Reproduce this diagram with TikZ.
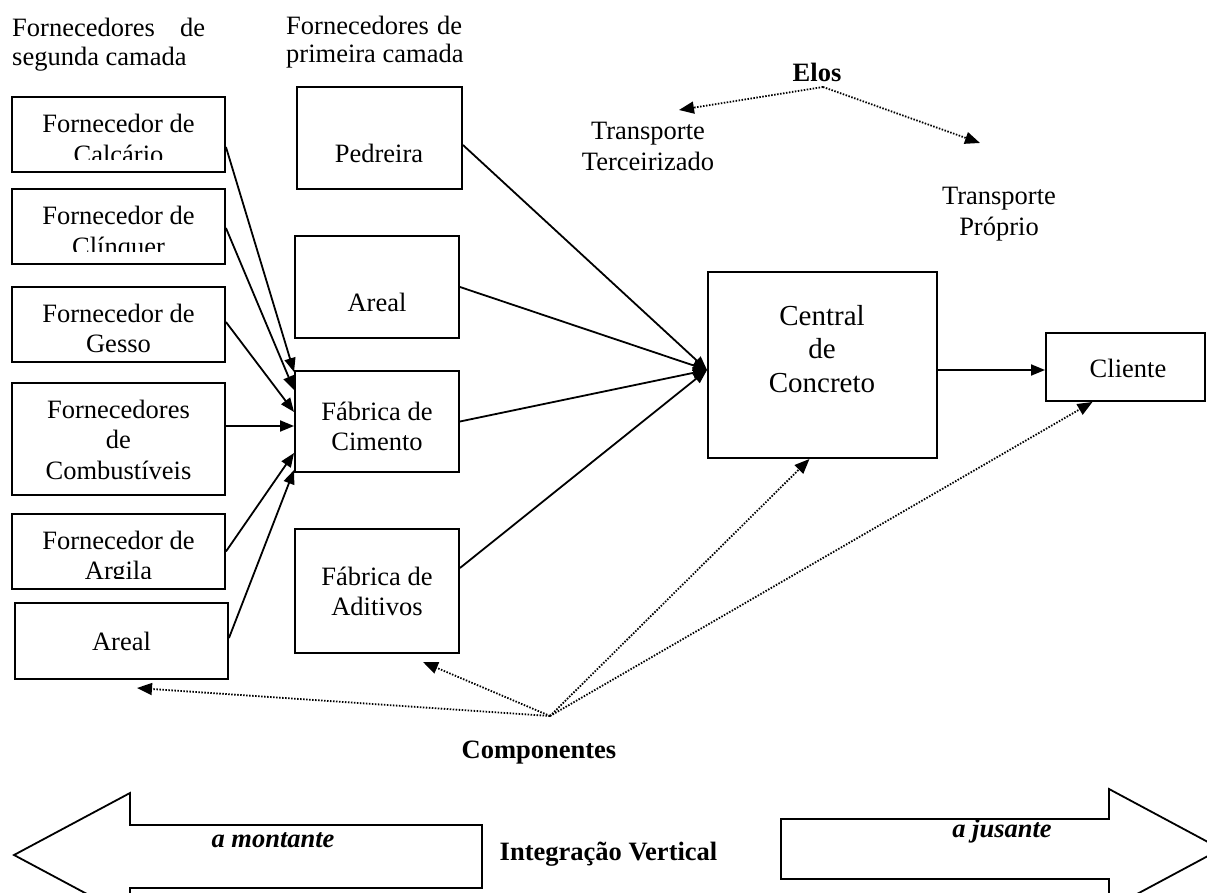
\documentclass[tikz,border=0pt]{standalone}
\usepackage{fontspec}
\setmainfont{Liberation Serif}
\usetikzlibrary{arrows.meta}
\newcommand\myfs{\fontsize{26.5}{30.5}\selectfont}
\newcommand\myfsc{\fontsize{29}{33.5}\selectfont}
\begin{document}
\begin{tikzpicture}[x=1pt,y=-1pt,
  bx/.style={draw, line width=1.9pt, inner sep=0pt},
  txt/.style={font=\myfs, inner sep=0pt, anchor=base, align=center},
  arr/.style={line width=1.8pt, -{Triangle[length=14pt,width=11pt]}},
  dot/.style={line width=1.8pt, dash pattern=on 1.5pt off 1.5pt, -{Triangle[length=15pt,width=12pt]}},
  blk/.style={draw, line width=1.8pt}]
\useasboundingbox (0,0) rectangle (1207,893);
\clip (0,0) rectangle (1207,893);

% ---- top labels
\node[txt, anchor=base west] (lab2a) at (12,37) {\makebox[193pt][s]{Fornecedores de}};
\node[txt, anchor=base west] (lab2b) at (12,66) {segunda camada};
\node[txt, anchor=base west] (lab1a) at (286,35) {\makebox[176pt][s]{Fornecedores de}};
\node[txt, anchor=base west] (lab1b) at (286,63) {primeira camada};

% ---- second tier boxes
\node[bx, minimum width=213pt, minimum height=75pt] (calc) at (118.5,134.5) {};
\node[bx, minimum width=213pt, minimum height=75pt] (clin) at (118.5,226.5) {};
\node[bx, minimum width=213pt, minimum height=75pt] (gess) at (118.5,324.5) {};
\node[bx, minimum width=213pt, minimum height=112pt] (comb) at (118.5,439) {};
\node[bx, minimum width=213pt, minimum height=75pt] (argi) at (118.5,551.5) {};
\node[bx, minimum width=213pt, minimum height=76pt] (are2) at (121.5,641) {};

% (the base anchor of a multi-line node is the baseline of its last line)
\begin{scope}
  \clip (12,97) rectangle (225,160);
  \node[txt] (calct) at (118.5,163.5) {Fornecedor de\\Calcário};
\end{scope}
\begin{scope}
  \clip (12,189) rectangle (225,252);
  \node[txt] (clint) at (118.5,255.5) {Fornecedor de\\Clínquer};
\end{scope}
\begin{scope}
  \clip (12,287) rectangle (225,352);
  \node[txt] (gesst) at (118.5,352.5) {Fornecedor de\\Gesso};
\end{scope}
\node[txt] (combt) at (118.5,479) {Fornecedores\\de\\Combustíveis};
\begin{scope}
  \clip (12,514) rectangle (225,578);
  \node[txt] (argit) at (118.5,579.5) {Fornecedor de\\Argila};
\end{scope}
\node[txt] (are2t) at (121.5,650) {Areal};

% ---- first tier boxes
\node[bx, minimum width=165pt, minimum height=102pt] (pedr) at (379.5,138) {};
\node[bx, minimum width=164pt, minimum height=102pt] (are1) at (377,287) {};
\node[bx, minimum width=164pt, minimum height=101pt] (cime) at (377,421.5) {};
\node[bx, minimum width=164pt, minimum height=124pt] (adit) at (377,591) {};
\node[txt] (pedrt) at (379,163) {Pedreira};
\node[txt] (are1t) at (377,312) {Areal};
\node[txt] (cimet) at (377,450.5) {Fábrica de\\Cimento};
\node[txt] (aditt) at (377,615.5) {Fábrica de\\Aditivos};

% ---- central and client
\node[bx, minimum width=229pt, minimum height=186pt] (cent) at (822.5,365) {};
\node[txt, font=\myfsc] (centt) at (822,392) {Central\\de\\Concreto};
\node[bx, minimum width=159pt, minimum height=68pt] (clie) at (1125.5,367) {};
\node[txt] (cliet) at (1128,377) {Cliente};

% ---- other texts
\node[txt, font=\myfs\bfseries] (elos) at (817,82) {Elos};
\node[txt] (tter) at (648,170.5) {Transporte\\Terceirizado};
\node[txt] (tpro) at (999,235.5) {Transporte\\Próprio};
\node[txt, font=\myfs\bfseries] (comp) at (539,758) {Componentes};

% ---- solid arrows into Fabrica de Cimento
\draw[arr] ([yshift=-12.5pt]calc.east) -- ([yshift=49.5pt]cime.west);
\draw[arr] ([yshift=-1.5pt]clin.east) -- ([yshift=31.5pt]cime.west);
\draw[arr] ([yshift=2.5pt]gess.east) -- ([yshift=9.5pt]cime.west);
\draw[arr] ([yshift=13pt]comb.east) -- ([yshift=-4.5pt]cime.west);
\draw[arr] (argi.east) -- ([yshift=-31.5pt]cime.west);
\draw[arr] ([yshift=3pt]are2.east) -- ([yshift=-48.5pt]cime.west);

% ---- solid arrows into Central
\coordinate (cin) at ([yshift=-5pt]cent.west);
\draw[arr] ([yshift=-7pt]pedr.east) -- (cin);
\draw[arr] (are1.east) -- (cin);
\draw[arr] (cime.east) -- (cin);
\draw[arr] ([yshift=23pt]adit.east) -- (cin);

% ---- Central to Cliente
\coordinate (cl) at ([yshift=-3pt]clie.west);
\draw[arr] (cent.east |- cl) -- (cl);

% ---- dotted arrows (Elos)
\coordinate (elo0) at (823,87);
\coordinate (eloL) at (679,110);
\coordinate (eloR) at (980,143);
\draw[dot] (elo0) -- (eloL);
\draw[dot] (elo0) -- (eloR);

% ---- dotted arrows (Componentes)
\coordinate (cmp0) at (550,716);
\coordinate (cmpA) at (137,688);
\coordinate (cmpB) at (423,662);
\draw[dot] (cmp0) -- (cmpA);
\draw[dot] (cmp0) -- (cmpB);
\draw[dot] (cmp0) -- ([xshift=-13pt]cent.south);
\draw[dot] (cmp0) -- ([xshift=-33pt]clie.south);

% ---- block arrows
\draw[blk] (14,855) -- (130,793) -- (130,825) -- (482,825) -- (482,888) -- (130,888) -- (130,917) -- cycle;
\draw[blk] (781,819) -- (1109,819) -- (1109,789) -- (1221,849) -- (1109,909) -- (1109,879) -- (781,879) -- cycle;
\node[txt, font=\myfs\bfseries\itshape] (mont) at (273,847) {a montante};
\node[txt, font=\myfs\bfseries\itshape] (jus) at (1002,837) {a jusante};
\node[txt, font=\myfs\bfseries] (integ) at (608.5,860) {Integração Vertical};
\end{tikzpicture}
\end{document}
